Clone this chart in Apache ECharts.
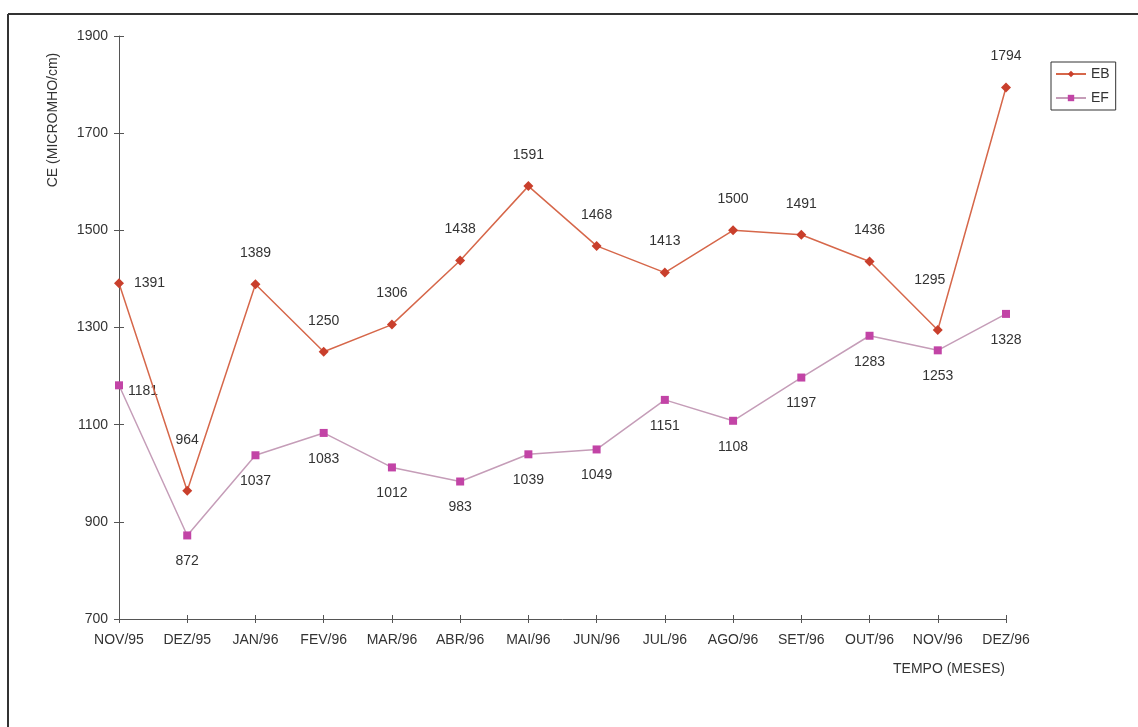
<!DOCTYPE html>
<html>
<head>
<meta charset="utf-8">
<script src="https://cdn.jsdelivr.net/npm/echarts@6/dist/echarts.min.js"></script>
<style>
  html, body { margin: 0; padding: 0; background: #fff; }
  #chart { width: 1138px; height: 727px; }
</style>
</head>
<body>
<div id="chart"></div>
<script>
// Monthly electrical conductivity (CE) at two sampling stations
const months = ['NOV/95', 'DEZ/95', 'JAN/96', 'FEV/96', 'MAR/96', 'ABR/96', 'MAI/96',
                'JUN/96', 'JUL/96', 'AGO/96', 'SET/96', 'OUT/96', 'NOV/96', 'DEZ/96'];
const ebValues = [1391, 964, 1389, 1250, 1306, 1438, 1591, 1468, 1413, 1500, 1491, 1436, 1295, 1794];
const efValues = [1181, 872, 1037, 1083, 1012, 983, 1039, 1049, 1151, 1108, 1197, 1283, 1253, 1328];
const yTicks = { min: 700, max: 1900, step: 200 };

const FONT = 'Liberation Sans, Arial, sans-serif';
const TEXT = '#333';
const AXIS = '#555';

// per-point label placement tweaks
const ebLabelTweaks = {
  0: { position: 'right', distance: 10 },
  1: { position: 'top', distance: 20, offset: [0, -19] },
  12: { position: 'top', distance: 20, offset: [-8, -18] }
};
const efLabelTweaks = {
  0: { position: 'right', distance: 5, offset: [0, 6] }
};

function withLabels(values, tweaks) {
  return values.map((v, i) => tweaks[i] ? { value: v, label: tweaks[i] } : v);
}

const chart = echarts.init(document.getElementById('chart'));

const yBase = {
  type: 'value', min: yTicks.min, max: yTicks.max, interval: yTicks.step,
  splitLine: { show: false }
};
const xBase = { type: 'category', data: months, boundaryGap: false };

chart.setOption({
  animation: false,
  backgroundColor: '#fff',
  textStyle: { fontFamily: FONT },
  grid: { left: 119, right: 132, top: 36, bottom: 108, containLabel: false },
  legend: {
    orient: 'vertical',
    left: 1051, top: 62,
    padding: [5, 6, 5, 4],
    borderColor: '#333', borderWidth: 1,
    itemWidth: 30, itemHeight: 8, itemGap: 10,
    textStyle: { fontSize: 14, color: TEXT, fontFamily: FONT },
    data: ['EB', 'EF']
  },
  xAxis: [
    Object.assign({}, xBase, {
      axisLine: { lineStyle: { color: AXIS, width: 1 } },
      axisTick: { show: true, length: 4, lineStyle: { color: AXIS } },
      axisLabel: { color: TEXT, fontSize: 14, margin: 14, fontFamily: FONT, interval: 0 }
    }),
    Object.assign({}, xBase, {
      position: 'bottom',
      axisLine: { show: false },
      axisTick: { show: true, inside: true, length: 4, lineStyle: { color: AXIS } },
      axisLabel: { show: false }
    })
  ],
  yAxis: [
    Object.assign({}, yBase, {
      axisLine: { show: true, lineStyle: { color: AXIS, width: 1 } },
      axisTick: { show: true, length: 5, lineStyle: { color: AXIS } },
      axisLabel: { color: TEXT, fontSize: 14, margin: 11, fontFamily: FONT, formatter: v => String(v) }
    }),
    Object.assign({}, yBase, {
      position: 'left',
      axisLine: { show: false },
      axisTick: { show: true, inside: true, length: 5, lineStyle: { color: AXIS } },
      axisLabel: { show: false }
    })
  ],
  graphic: [
    { type: 'line', shape: { x1: 8, y1: 14, x2: 1138, y2: 14 }, style: { stroke: '#333', lineWidth: 2 } },
    { type: 'line', shape: { x1: 8, y1: 14, x2: 8, y2: 727 }, style: { stroke: '#333', lineWidth: 2 } },
    {
      type: 'text', x: 53, y: 120, rotation: Math.PI / 2,
      style: { text: 'CE (MICROMHO/cm)', fill: TEXT, font: '14px ' + FONT, align: 'center', verticalAlign: 'middle' }
    },
    {
      type: 'text', x: 1005, y: 669,
      style: { text: 'TEMPO (MESES)', fill: TEXT, font: '14px ' + FONT, align: 'right', verticalAlign: 'middle' }
    }
  ],
  series: [
    {
      name: 'EB', type: 'line',
      data: withLabels(ebValues, ebLabelTweaks),
      symbol: 'diamond', symbolSize: [10, 10],
      itemStyle: { color: '#c93f2c' },
      lineStyle: { color: '#d6674a', width: 1.5 },
      label: { show: true, position: 'top', distance: 19, color: TEXT, fontSize: 14, fontFamily: FONT },
      z: 3
    },
    {
      name: 'EF', type: 'line',
      data: withLabels(efValues, efLabelTweaks),
      symbol: 'rect', symbolSize: [8, 8],
      itemStyle: { color: '#c244a6' },
      lineStyle: { color: '#c59db8', width: 1.5 },
      label: { show: true, position: 'bottom', distance: 15, color: TEXT, fontSize: 14, fontFamily: FONT },
      z: 2
    }
  ]
});
</script>
</body>
</html>
